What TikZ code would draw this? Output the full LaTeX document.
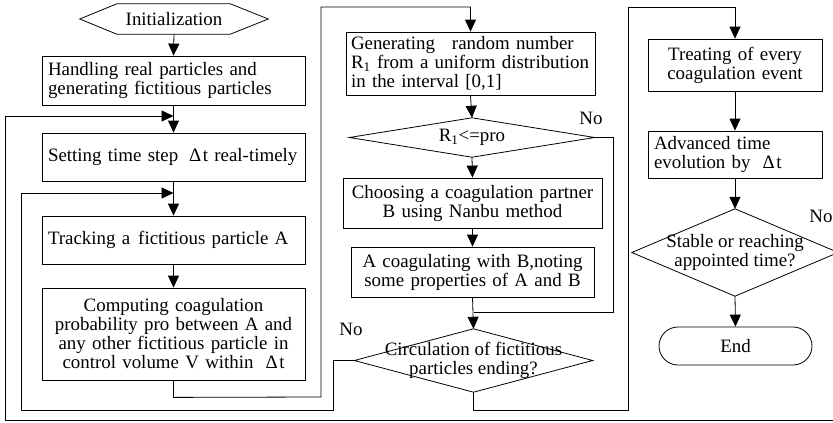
\documentclass[tikz,border=0pt]{standalone}
\usepackage{fontspec}
\setmainfont{Liberation Serif}
\usetikzlibrary{arrows.meta}
\newcommand\myfs{\fontsize{18.9pt}{19pt}\selectfont}
\begin{document}
\begin{tikzpicture}[x=1pt,y=-1pt,
  every node/.style={font=\myfs},
  pbox/.style={draw, line width=0.8pt, inner xsep=6pt, inner ysep=0pt},
  cbox/.style={draw, line width=0.8pt, inner xsep=1pt, inner ysep=0pt, align=center},
  hid/.style={inner sep=0pt},
  ln/.style={line width=0.8pt},
  arr/.style={ln, -{Triangle[length=12pt,width=11pt]}},
  lbl/.style={inner sep=0pt}]
\useasboundingbox (0,0) rectangle (833,423);
% left column
\node[hid, minimum width=188pt, minimum height=30pt] (init) at (174,19) {Initialization};
\draw[ln] (init.west) -- ([xshift=37pt]init.north west) -- ([xshift=-38pt]init.north east)
  -- (init.east) -- ([xshift=-38pt]init.south east) -- ([xshift=37pt]init.south west) -- cycle;
\node[pbox, align=left, text width=251pt, minimum height=49pt] (handle) at (173.5,80.5)
  {Handling real particles and\\generating fictitious particles};
\node[pbox, align=left, text width=251pt, minimum height=48pt] (set) at (173.5,157)
  {Setting time step\hspace{11pt}Δ\kern1.5pt t real-timely};
\node[pbox, align=left, text width=251pt, minimum height=48pt] (track) at (173.5,240)
  {Tracking a\hspace{8pt}fictitious particle A};
\node[cbox, text width=261pt, minimum height=92pt] (comp) at (173.5,334)
  {Computing coagulation\\probability pro between A and\\any other fictitious particle in\\control volume V within\hspace{12pt}Δ\kern1.5pt t};
% middle column
\node[pbox, inner xsep=3pt, align=left, text width=243pt, minimum height=63pt] (gen) at (470.5,63.5)
  {\hspace{2pt}Generating\hspace{17pt}random number\\\hspace{2pt}R\textsubscript{1} from a uniform distribution\\\hspace{2pt}in the interval [0,1]};
\node[hid, minimum width=245pt, minimum height=39pt] (r1) at (472,137.5) {R\textsubscript{1}<=pro};
\draw[ln] (r1.north) -- (r1.east) -- (r1.south) -- (r1.west) -- cycle;
\node[cbox, text width=257pt, minimum height=50pt] (choose) at (472.5,203)
  {Choosing a coagulation partner\\B using Nanbu method};
\node[cbox, text width=241pt, minimum height=50pt] (acoag) at (472.5,272)
  {A coagulating with B,noting\\some properties of A and B};
\node[hid, minimum width=238pt, minimum height=63pt] (circ) at (473.5,360.5) {};
\draw[ln] (circ.north) -- (circ.east) -- (circ.south) -- (circ.west) -- cycle;
\node[hid, align=center] (circt) at (circ.center) {Circulation of fictitious\\particles ending?};
% right column
\node[cbox, text width=172pt, minimum height=52pt] (treat) at (735,65)
  {Treating of every\\coagulation event};
\node[pbox, align=left, text width=162pt, minimum height=47pt] (adv) at (735,154.5)
  {Advanced time\\evolution by\hspace{12pt}Δ\kern1.5pt t};
\node[hid, minimum width=206pt, minimum height=87pt] (stab) at (735,252.5) {};
\draw[ln] (stab.north) -- (stab.east) -- (stab.south) -- (stab.west) -- cycle;
\node[hid, align=center] (stabt) at (stab.center) {Stable or reaching\\appointed time?};
\node[draw, line width=0.8pt, rounded corners=19pt, minimum width=153pt, minimum height=38pt, inner sep=0pt] (endn) at (735.5,346) {End};
% labels
\node[lbl] (no1) at (591,118) {No};
\node[lbl] (no2) at (351,329) {No};
\node[lbl] (no3) at (821,216) {No};
% coordinates
\coordinate (outerin) at (173.5,116);
\coordinate (innerin) at (173.5,193);
\coordinate (r1back) at (473.5,312);
% connectors
\draw[arr] (init.south) -- (handle.north);
\draw[arr] (handle.south) -- (set.north);
\draw[arr] (set.south) -- (track.north);
\draw[arr] (track.south) -- (comp.north);
\draw[arr] (comp.south) -- ++(0,17) -- (321,397) -- (321,7) -| (gen.north);
\draw[arr] (gen.south) -- (r1.north);
\draw[arr] (r1.south) -- (choose.north);
\draw[arr] (choose.south) -- (acoag.north);
\draw[arr] (acoag.south) -- (circ.north);
\draw[ln] (r1.east) -- (613,137.5) |- (r1back);
\draw[arr] (circ.west) -- (333,360.5) -- (333,410) -- (21,410) -- (21,193) -- (innerin);
\draw[arr] (circ.south) -- (473.5,410) -- (628,410) -- (628,7) -| (treat.north);
\draw[arr] (treat.south) -- (adv.north);
\draw[arr] (adv.south) -- (stab.north);
\draw[arr] (stab.south) -- (endn.north);
\draw[arr] (stab.east) |- (5,420.5) -- (5,116) -- (outerin);
\end{tikzpicture}
\end{document}
